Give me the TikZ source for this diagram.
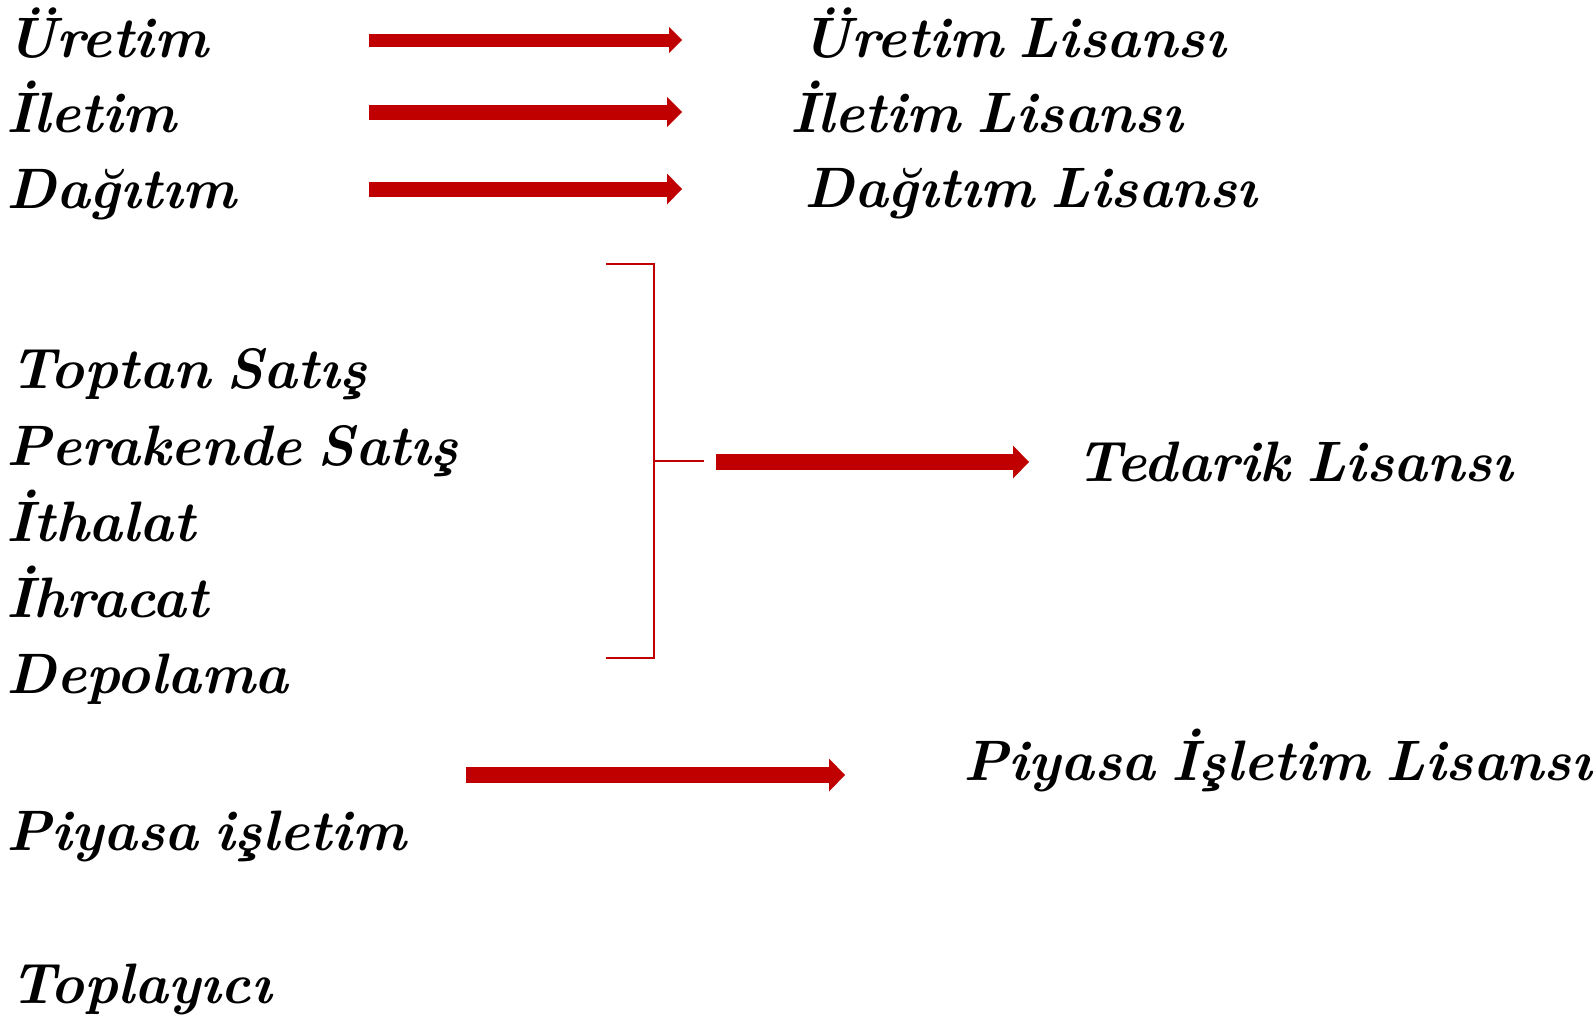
\documentclass[tikz,border=0pt]{standalone}
\usepackage{tikz}
\usetikzlibrary{arrows.meta,positioning}
\definecolor{licred}{HTML}{C00000}
\newcommand\licfont{\fontsize{57}{60}\selectfont\bfseries\itshape\fontdimen2\font=0.28em\relax}

\begin{document}
\begin{tikzpicture}[x=1pt,y=-1pt]
                \tikzstyle{every node}+=[inner sep=0pt, anchor=base west, font=\licfont]
                \tikzset{fat arrow/.style 2 args={licred, line width=#1, -{Triangle[length=#1, width=#2, line width=0pt]}}}
                \tikzstyle{bracket}=[licred, line width=1.6pt]
                \useasboundingbox (0,0) rectangle (1593,1020);
                % activities
                \node (uretim) at (6,57) {Üretim};
                \node (iletim) at (6,132) {İletim};
                \node (dagitim) at (6,208) {Dağıtım};
                \node (toptan) at (10,388) {Toptan Satış};
                \node (perakende) at (6,465) {Perakende Satış};
                \node (ithalat) at (6,541) {İthalat};
                \node (ihracat) at (6,617) {İhracat};
                \node (depolama) at (6,693) {Depolama};
                \node (piyasa) at (6,850) {Piyasa işletim};
                \node (toplayici) at (10,1003) {Toplayıcı};
                % licences
                \node (uretimlis) at (801,57) {Üretim Lisansı};
                \node (iletimlis) at (790,132) {İletim Lisansı};
                \node (dagitimlis) at (804,207) {Dağıtım Lisansı};
                \node (tedariklis) at (1076,481) {Tedarik Lisansı};
                \node (piyasalis) at (963,780) {Piyasa İşletim Lisansı};
                % arrow ends
                \coordinate (u1) at (369,40);   \coordinate (u2) at (682,40);
                \coordinate (i1) at (369,112);  \coordinate (i2) at (682,112);
                \coordinate (d1) at (369,189);  \coordinate (d2) at (682,189);
                \coordinate (t1) at (716,462);  \coordinate (t2) at (1029,462);
                \coordinate (p1) at (466,775);  \coordinate (p2) at (845,775);
                \draw [fat arrow={13pt}{26pt}] (u1) -- (u2);
                \draw [fat arrow={15pt}{30pt}] (i1) -- (i2);
                \draw [fat arrow={15pt}{31pt}] (d1) -- (d2);
                \draw [fat arrow={16pt}{33pt}] (t1) -- (t2);
                \draw [fat arrow={16pt}{33pt}] (p1) -- (p2);
                % bracket over the supply group
                \coordinate (btop) at (606,264);
                \coordinate (bbot) at (606,658);
                \coordinate (bspine) at (654,461);
                \coordinate (btip) at (704,461);
                \draw [bracket] (btop) -| (bspine) |- (bbot);
                \draw [bracket] (bspine) -- (btip);
\end{tikzpicture}
\end{document}
